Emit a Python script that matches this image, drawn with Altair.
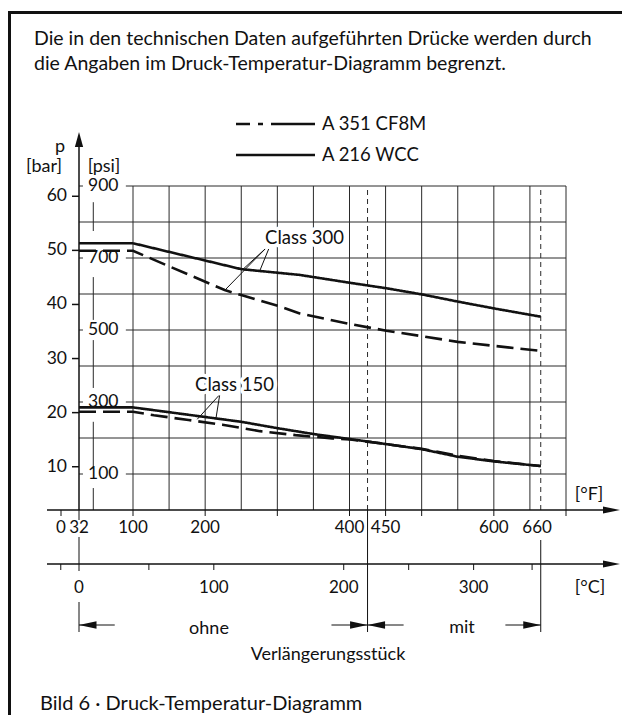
import altair as alt
import pandas as pd

FONT = "Lato"
INK = "#111111"
GRIDC = "#2a2a2a"

# ---------------- data (temperature in °F, pressure in psi) ----------------
c300_wcc_F = [32, 100, 250, 331, 401, 451, 500, 550, 600, 665]
c300_wcc_psi = [741, 741, 669, 653, 631, 616, 599, 579, 560, 537]
c300_cf8m_F = [32, 100, 227, 250, 304, 331, 400, 451, 500, 550, 600, 665]
c300_cf8m_psi = [720, 720, 611, 597, 565, 546, 517, 498, 483, 467, 456, 442]
c150_wcc_F = [32, 100, 250, 301, 350, 401, 451, 500, 550, 600, 665]
c150_wcc_psi = [285, 285, 245, 227, 211, 197, 183, 169, 148, 135, 122]
c150_cf8m_F = [32, 100, 129, 177, 224, 276, 325, 376, 401, 451, 500, 550, 600, 665]
c150_cf8m_psi = [273, 273, 263, 250, 237, 219, 208, 199, 196, 183, 170, 151, 136, 122]

materials = ["A 351 CF8M", "A 216 WCC"]
header_lines = ["Die in den technischen Daten aufgeführten Drücke werden durch",
                "die Angaben im Druck-Temperatur-Diagramm begrenzt."]
caption = "Bild 6 · Druck-Temperatur-Diagramm"

f_grid = list(range(100, 701, 50))
psi_grid = list(range(100, 901, 100))
psi_labels = [100, 300, 500, 700, 900]
bar_ticks = [10, 20, 30, 40, 50, 60]
f_ticks = [0, 100, 200, 300, 400, 450, 500, 600, 700]
f_tick_labels = [0, 32, 100, 200, 400, 450, 600, 660]
c_ticks = [-18, 50, 100, 200, 250, 300, 345]
c_tick_labels = [0, 100, 200, 300]
limit_F = [425, 665]          # boundaries "ohne" / "mit" Verlängerungsstück
psi_axis_F = 50
psi_axis_segments = [(0, 61), (120, 245), (339, 472), (528, 647), (775, 855)]
grid_gap_F = (37, 91)         # where psi labels interrupt the grid

class_labels = [("Class 300", 283, 755), ("Class 150", 186, 347)]
leaders = [(283, 725, 227, 610), (283, 725, 252, 668), (288, 725, 276, 666),
           (219, 318, 189, 252), (220, 318, 215, 255)]

# ---------------- layout ----------------
W, H = 487, 324
xs = alt.Scale(domain=[0, 32, 100, 700], range=[-18, 0, 54, W], nice=False, zero=False)
ys = alt.Scale(domain=[0, 900], nice=False, zero=False)
bs = alt.Scale(domain=[2, 61.9], nice=False, zero=False)


def X(f="F"):
    return alt.X(f"{f}:Q", scale=xs, axis=None)


def Y(f="psi"):
    return alt.Y(f"{f}:Q", scale=ys, axis=None)


one = pd.DataFrame({"k": [0]})


def txt(s, x, y, size=18, align="left"):
    return alt.Chart(one).mark_text(
        text=s, x=x, y=y, font=FONT, fontSize=size, align=align,
        baseline="middle", color=INK)


layers = []

# grid
layers.append(alt.Chart(pd.DataFrame({"F": f_grid, "lo": 0, "hi": 900}))
              .mark_rule(color=GRIDC, strokeWidth=1)
              .encode(x=X(), y=Y("lo"), y2="hi:Q"))
rows = []
for p in psi_grid:
    if p in psi_labels:
        rows += [(p, 32, grid_gap_F[0]), (p, grid_gap_F[1], 700)]
    else:
        rows.append((p, 32, 700))
layers.append(alt.Chart(pd.DataFrame(rows, columns=["psi", "F1", "F2"]))
              .mark_rule(color=GRIDC, strokeWidth=1)
              .encode(x=X("F1"), x2="F2:Q", y=Y()))
layers.append(alt.Chart(pd.DataFrame({"F": limit_F, "lo": 0, "hi": 900}))
              .mark_rule(color=GRIDC, strokeWidth=1, strokeDash=[5, 4])
              .encode(x=X(), y=Y("lo"), y2="hi:Q"))
layers.append(alt.Chart(pd.DataFrame([(psi_axis_F, a, b) for a, b in psi_axis_segments],
                                     columns=["F", "lo", "hi"]))
              .mark_rule(color=GRIDC, strokeWidth=1)
              .encode(x=X(), y=Y("lo"), y2="hi:Q"))

# label halos
cl = pd.DataFrame(class_labels, columns=["t", "F", "psi"])
layers.append(alt.Chart(cl).mark_text(font=FONT, fontSize=18.5, align="left", baseline="middle",
                                      stroke="white", strokeWidth=7, strokeJoin="round", color="white")
              .encode(x=X(), y=Y(), text="t:N"))

# curves
recs = []
for name, mat, F, P in [("300w", materials[1], c300_wcc_F, c300_wcc_psi),
                        ("300c", materials[0], c300_cf8m_F, c300_cf8m_psi),
                        ("150w", materials[1], c150_wcc_F, c150_wcc_psi),
                        ("150c", materials[0], c150_cf8m_F, c150_cf8m_psi)]:
    for f, p in zip(F, P):
        recs.append({"series": name, "material": mat, "F": f, "psi": p})
layers.append(alt.Chart(pd.DataFrame(recs)).mark_line(strokeWidth=2.6, color=INK)
              .encode(x=X(), y=Y(), detail="series:N",
                      strokeDash=alt.StrokeDash("material:N", legend=None,
                                                scale=alt.Scale(domain=materials, range=[[17, 7], [1, 0]]))))

# leaders + class labels
layers.append(alt.Chart(pd.DataFrame(leaders, columns=["F", "psi", "F2", "psi2"]))
              .mark_rule(color=INK, strokeWidth=1)
              .encode(x=X(), y=Y(), x2="F2:Q", y2="psi2:Q"))
layers.append(alt.Chart(cl).mark_text(font=FONT, fontSize=18.5, align="left", baseline="middle", color=INK)
              .encode(x=X(), y=Y(), text="t:N"))

# psi labels
layers.append(alt.Chart(pd.DataFrame({"psi": psi_labels, "F": 32}))
              .mark_text(font=FONT, fontSize=17.5, align="left", baseline="middle", dx=9, color=INK)
              .encode(x=X(), y=Y(), text="psi:Q"))

# y axis with arrow
layers.append(alt.Chart(pd.DataFrame({"F": [32]})).mark_rule(color=INK, strokeWidth=1.5)
              .encode(x=X(), y=alt.value(H), y2=alt.value(-40)))
layers.append(alt.Chart(pd.DataFrame({"F": [32]}))
              .mark_point(shape="M0,0L-0.55,2L0.55,2Z", size=225, filled=True, opacity=1,
                          color=INK, strokeWidth=0)
              .encode(x=X(), y=alt.value(-54)))

# F axis
layers.append(alt.Chart(one).mark_rule(color=INK, strokeWidth=1.5)
              .encode(x=alt.value(-32), x2=alt.value(526), y=alt.value(H)))
layers.append(alt.Chart(one).mark_point(shape="M0,0L-2,-0.4L-2,0.4Z", size=289, filled=True,
                                        opacity=1, color=INK, strokeWidth=0)
              .encode(x=alt.value(541), y=alt.value(H)))
layers.append(alt.Chart(pd.DataFrame({"F": f_ticks})).mark_rule(color=INK, strokeWidth=1)
              .encode(x=X(), y=alt.value(H), y2=alt.value(H + 6)))
layers.append(alt.Chart(pd.DataFrame({"F": f_tick_labels})).mark_text(font=FONT, fontSize=17, color=INK,
                                                                    baseline="middle")
              .encode(x=X(), y=alt.value(H + 18), text="F:Q"))

# solid verticals below the F axis
for F, a, b in [(32, H, H + 10), (32, H + 27, H + 61), (32, H + 92, H + 122),
                (limit_F[0], H, H + 122), (limit_F[1], H + 30, H + 122)]:
    layers.append(alt.Chart(pd.DataFrame({"F": [F]})).mark_rule(color=INK, strokeWidth=1)
                  .encode(x=X(), y=alt.value(a), y2=alt.value(b)))

# C axis
CY = H + 54
layers.append(alt.Chart(one).mark_rule(color=INK, strokeWidth=1.5)
              .encode(x=alt.value(-32), x2=alt.value(526), y=alt.value(CY)))
layers.append(alt.Chart(one).mark_point(shape="M0,0L-2,-0.4L-2,0.4Z", size=289, filled=True,
                                        opacity=1, color=INK, strokeWidth=0)
              .encode(x=alt.value(541), y=alt.value(CY)))
layers.append(alt.Chart(pd.DataFrame({"C": c_ticks})).transform_calculate(F="datum.C*1.8+32")
              .mark_rule(color=INK, strokeWidth=1)
              .encode(x=X(), y=alt.value(CY), y2=alt.value(CY + 6)))
layers.append(alt.Chart(pd.DataFrame({"C": c_tick_labels})).transform_calculate(F="datum.C*1.8+32")
              .mark_text(font=FONT, fontSize=17, color=INK, baseline="middle")
              .encode(x=X(), y=alt.value(CY + 24), text="C:Q"))

# range arrows
AY = H + 115
seg = pd.DataFrame([(32, 77), (375, limit_F[0]), (limit_F[0], 475), (616, limit_F[1])],
                   columns=["F", "F2"])
layers.append(alt.Chart(seg).mark_rule(color=INK, strokeWidth=1)
              .encode(x=X(), x2="F2:Q", y=alt.value(AY)))
layers.append(alt.Chart(pd.DataFrame({"F": [32, limit_F[0]]}))
              .mark_point(shape="M0,0L2,-0.42L2,0.42Z", size=306, filled=True, opacity=1,
                          color=INK, strokeWidth=0)
              .encode(x=X(), y=alt.value(AY)))
layers.append(alt.Chart(pd.DataFrame({"F": [limit_F[0], limit_F[1]]}))
              .mark_point(shape="M0,0L-2,-0.42L-2,0.42Z", size=306, filled=True, opacity=1,
                          color=INK, strokeWidth=0)
              .encode(x=X(), y=alt.value(AY)))

# texts
layers += [
    txt(header_lines[0], -45, -147, 19.5),
    txt(header_lines[1], -45, -122, 19.5),
    txt("p", -19, -39, 18, "center"),
    txt("[bar]", -35, -19, 18, "center"),
    txt("[psi]", 25, -19, 18, "center"),
    txt("[°F]", 510, 309, 18, "center"),
    txt("[°C]", 511, CY + 24, 18, "center"),
    txt("ohne", 130, AY + 4, 18, "center"),
    txt("mit", 383, AY + 3, 18, "center"),
    txt("Verlängerungsstück", 249, AY + 30, 18, "center"),
    txt(caption, -39, 518, 20),
]

# legend
for i, (m, dash) in enumerate(zip(materials, [[14, 8, 5, 8, 80], [1, 0]])):
    ly = -62 + 31 * i
    layers.append(alt.Chart(one).mark_rule(color=INK, strokeWidth=2.6, strokeDash=dash)
                  .encode(x=alt.value(157), x2=alt.value(236), y=alt.value(ly)))
    layers.append(txt(m, 243, ly, 18.5))

# frame (top and left edge of the figure box)
layers.append(alt.Chart(one).mark_rule(color=INK, strokeWidth=3)
              .encode(x=alt.value(-69.5), y=alt.value(-173.5), y2=alt.value(H + 210)))
layers.append(alt.Chart(one).mark_rule(color=INK, strokeWidth=3)
              .encode(x=alt.value(-71), x2=alt.value(560), y=alt.value(-173.5)))

main = alt.layer(*layers)

bar_df = pd.DataFrame({"bar": bar_ticks})
bar_layer = alt.layer(
    alt.Chart(bar_df).mark_rule(color=INK, strokeWidth=1.5)
    .encode(x=alt.value(-7), x2=alt.value(0), y=alt.Y("bar:Q", scale=bs, axis=None)),
    alt.Chart(bar_df).mark_text(font=FONT, fontSize=17.5, align="right", baseline="middle", color=INK)
    .encode(x=alt.value(-12), y=alt.Y("bar:Q", scale=bs, axis=None), text="bar:Q"),
)

chart = (alt.layer(main, bar_layer)
         .resolve_scale(y="independent")
         .properties(width=W, height=H,
                     padding={"left": 71, "top": 178, "right": 56, "bottom": 205},
                     autosize=alt.AutoSizeParams(type="none"),
                     background="white")
         .configure_view(stroke=None))

chart.save("out.html", embed_options={"renderer": "svg", "actions": False})
